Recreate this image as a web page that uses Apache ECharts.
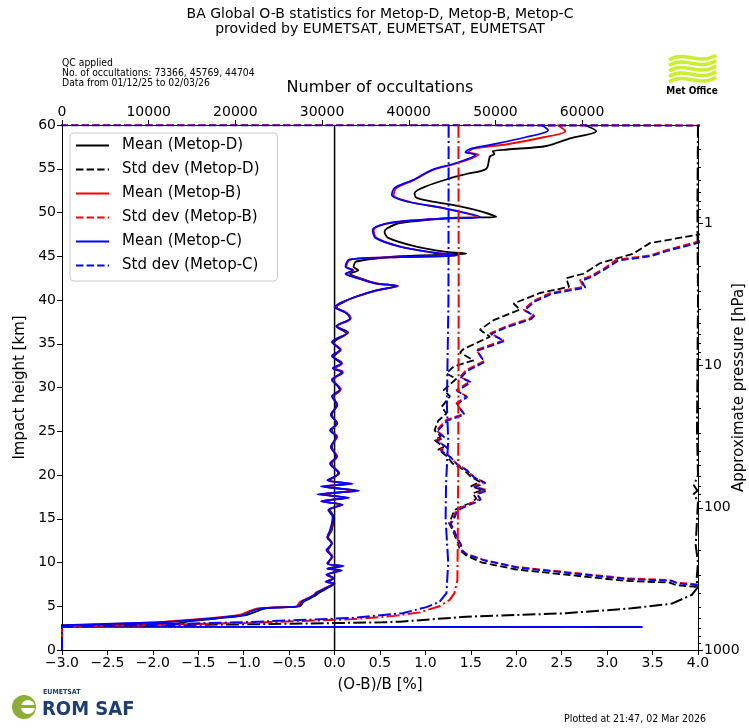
<!DOCTYPE html>
<html>
<head>
<meta charset="utf-8">
<script src="https://cdn.jsdelivr.net/npm/echarts@6/dist/echarts.min.js"></script>
<style>
  html, body { margin: 0; padding: 0; background: #fff; }
  #chart { width: 749px; height: 728px; }
</style>
</head>
<body>
<div id="chart"></div>
<script>
// profiles as [value, impact height km]
const meanD = [
  [2.75, 60.0], [2.88, 59.3], [2.6, 58.5], [2.33, 57.6], [1.9, 57.2], [1.74, 57.0], [1.76, 56.7], [1.71, 56.4],
  [1.67, 55.0], [1.45, 54.4], [1.27, 53.9], [1.01, 53.0], [0.88, 52.2], [0.9, 51.7], [1.05, 51.3], [1.38, 50.7],
  [1.62, 50.1], [1.78, 49.5], [1.34, 49.4], [0.72, 48.8], [0.58, 48.2], [0.55, 47.8], [0.59, 47.1], [0.9, 46.1],
  [1.23, 45.5], [1.45, 45.3], [0.72, 45.0], [0.24, 44.4], [0.21, 43.8], [0.26, 43.4], [0.17, 43.0], [0.28, 42.5],
  [0.46, 41.9], [0.68, 41.6], [0.46, 41.1], [0.24, 40.4], [0.11, 39.8], [0.02, 39.2], [0.13, 38.5], [0.17, 37.9],
  [0.02, 37.0], [0.13, 36.2], [-0.01, 35.1], [0.06, 34.3], [-0.01, 33.5], [0.07, 32.7], [0.0, 32.2], [0.08, 31.8],
  [-0.01, 30.9], [0.06, 29.7], [-0.01, 29.0], [0.02, 28.0], [-0.03, 26.9], [0.02, 25.9], [-0.03, 25.1], [0.02, 24.4],
  [-0.03, 23.2], [0.02, 22.1], [-0.03, 21.3], [0.04, 20.2], [-0.05, 19.4], [0.13, 19.0], [-0.09, 18.7], [0.2, 18.2],
  [-0.12, 17.8], [0.1, 17.4], [-0.12, 17.0], [0.06, 16.6], [-0.05, 16.0], [-0.01, 15.2], [-0.03, 13.7], [-0.07, 12.9],
  [-0.03, 12.2], [-0.07, 11.4], [-0.03, 10.7], [-0.07, 9.9], [0.05, 9.6], [-0.07, 9.3], [0.04, 9.1], [-0.07, 8.6],
  [-0.01, 8.2], [-0.07, 7.8], [0.0, 7.6], [-0.09, 7.0], [-0.16, 6.6], [-0.2, 6.3], [-0.27, 5.9], [-0.34, 5.5],
  [-0.38, 5.0], [-0.49, 4.9], [-0.75, 4.8], [-0.86, 4.4], [-0.97, 4.0], [-1.3, 3.6], [-1.59, 3.3], [-1.72, 3.05],
  [-3.5, 2.75]
];
const meanB = [
  [2.45, 60.0], [2.54, 59.3], [2.3, 58.6], [1.9, 57.8], [1.53, 57.3], [1.47, 56.9], [1.58, 56.6], [1.34, 55.6],
  [1.09, 54.9], [0.87, 53.7], [0.68, 52.8], [0.65, 52.0], [0.83, 51.2], [1.2, 50.5], [1.56, 49.5], [1.16, 49.3],
  [0.61, 48.8], [0.43, 48.0], [0.46, 47.1], [0.72, 46.1], [1.09, 45.4], [1.34, 45.1], [0.72, 44.9], [0.17, 44.6],
  [0.13, 43.8], [0.21, 43.4], [0.13, 43.0], [0.26, 42.5], [0.45, 41.9], [0.7, 41.6], [0.47, 41.1], [0.25, 40.4],
  [0.1, 39.8], [0.01, 39.2], [0.14, 38.5], [0.18, 37.9], [0.03, 37.0], [0.14, 36.3], [-0.02, 35.2], [0.07, 34.3],
  [-0.02, 33.6], [0.08, 32.7], [-0.01, 32.2], [0.09, 31.8], [-0.02, 30.9], [0.07, 29.8], [-0.02, 29.0], [0.03, 28.0],
  [-0.04, 26.9], [0.03, 25.9], [-0.04, 25.1], [0.03, 24.4], [-0.04, 23.2], [0.03, 22.1], [-0.04, 21.3], [0.05, 20.2],
  [-0.07, 19.4], [0.17, 19.0], [-0.12, 18.7], [0.24, 18.2], [-0.16, 17.8], [0.14, 17.4], [-0.14, 17.0], [0.08, 16.6],
  [-0.06, 16.0], [-0.02, 15.2], [-0.04, 13.7], [-0.08, 12.9], [-0.03, 12.2], [-0.08, 11.4], [-0.02, 10.7], [-0.08, 9.9],
  [0.08, 9.6], [-0.08, 9.3], [0.06, 9.1], [-0.09, 8.6], [-0.02, 8.2], [-0.1, 7.8], [-0.02, 7.6], [-0.12, 7.0],
  [-0.2, 6.6], [-0.23, 6.3], [-0.3, 5.9], [-0.38, 5.5], [-0.42, 5.0], [-0.55, 4.9], [-0.85, 4.75], [-0.95, 4.4],
  [-1.05, 4.0], [-1.4, 3.6], [-1.75, 3.35], [-2.03, 3.1], [-3.5, 2.66], [2.5, 2.62]
];
const meanC = [
  [2.28, 60.0], [2.35, 59.4], [2.1, 58.6], [1.75, 57.8], [1.5, 57.3], [1.44, 56.9], [1.55, 56.6], [1.32, 55.6],
  [1.08, 54.9], [0.86, 53.7], [0.66, 52.8], [0.63, 52.0], [0.82, 51.2], [1.2, 50.5], [1.6, 49.5], [1.16, 49.3],
  [0.6, 48.8], [0.42, 48.0], [0.45, 47.1], [0.72, 46.1], [1.1, 45.4], [1.35, 45.1], [0.72, 44.9], [0.16, 44.6],
  [0.12, 43.8], [0.2, 43.4], [0.12, 43.0], [0.25, 42.5], [0.44, 41.9], [0.69, 41.6], [0.46, 41.1], [0.24, 40.4],
  [0.09, 39.8], [0.0, 39.2], [0.13, 38.5], [0.17, 37.9], [0.02, 37.0], [0.15, 36.3], [-0.03, 35.2], [0.06, 34.3],
  [-0.03, 33.6], [0.08, 32.8], [-0.02, 32.2], [0.09, 31.7], [-0.03, 30.9], [0.06, 29.8], [-0.03, 29.0], [0.03, 28.0],
  [-0.04, 26.9], [0.03, 25.9], [-0.05, 25.1], [0.02, 24.4], [-0.04, 23.2], [0.02, 22.1], [-0.05, 21.3], [0.05, 20.2],
  [-0.08, 19.4], [0.2, 19.0], [-0.15, 18.7], [0.27, 18.2], [-0.19, 17.8], [0.16, 17.4], [-0.15, 17.0], [0.09, 16.6],
  [-0.07, 16.0], [-0.02, 15.2], [-0.05, 13.7], [-0.08, 12.9], [-0.03, 12.2], [-0.09, 11.4], [-0.03, 10.7], [-0.08, 9.9],
  [0.1, 9.6], [-0.08, 9.3], [0.08, 9.1], [-0.09, 8.6], [-0.01, 8.2], [-0.09, 7.8], [-0.01, 7.6], [-0.11, 7.0],
  [-0.19, 6.6], [-0.22, 6.3], [-0.29, 5.9], [-0.36, 5.5], [-0.4, 5.0], [-0.52, 4.9], [-0.8, 4.75], [-0.92, 4.4],
  [-1.0, 4.0], [-1.35, 3.6], [-1.65, 3.35], [-1.85, 3.2], [-3.5, 2.67], [3.39, 2.63]
];
const stdD = [
  [4.4, 48.2], [3.47, 46.5], [3.29, 45.3], [2.92, 44.2], [2.74, 43.0], [2.55, 42.5], [2.58, 41.5], [2.26, 40.8],
  [1.97, 39.6], [2.04, 38.9], [1.75, 37.7], [1.6, 36.6], [1.71, 35.8], [1.42, 34.4], [1.38, 34.0], [1.53, 33.1],
  [1.31, 32.4], [1.23, 31.6], [1.34, 31.0], [1.2, 29.7], [1.27, 29.0], [1.18, 27.8], [1.23, 27.0], [1.14, 26.2],
  [1.1, 25.1], [1.17, 24.4], [1.1, 24.0], [1.2, 23.2], [1.14, 22.9], [1.24, 22.1], [1.3, 21.3], [1.42, 20.6],
  [1.5, 19.8], [1.6, 19.2], [1.5, 18.7], [1.63, 18.3], [1.52, 17.9], [1.56, 17.3], [1.5, 16.8], [1.42, 16.5],
  [1.32, 16.0], [1.29, 15.2], [1.26, 14.5], [1.3, 13.7], [1.33, 12.9], [1.36, 12.2], [1.38, 11.4], [1.45, 10.8],
  [1.62, 10.0], [2.0, 9.2], [2.37, 8.8], [2.74, 8.4], [3.21, 7.9], [3.69, 7.7], [3.76, 7.4], [4.0, 7.2], [5.0, 6.6]
];
const stdB = [
  [-5.0, 60.0], [9.0, 59.95], [6.0, 52.0], [4.4, 47.8], [3.65, 45.7], [3.47, 45.1], [3.1, 44.6], [2.95, 43.5],
  [2.81, 42.7], [2.7, 42.3], [2.74, 41.5], [2.63, 41.3], [2.37, 40.8], [2.19, 39.9], [2.08, 38.9], [2.19, 38.3],
  [2.15, 37.9], [1.89, 37.0], [1.71, 36.2], [1.86, 35.4], [1.56, 34.3], [1.64, 33.0], [1.45, 32.0], [1.38, 31.2],
  [1.49, 30.7], [1.34, 29.7], [1.45, 29.0], [1.34, 28.2], [1.42, 27.0], [1.23, 26.3], [1.12, 25.1], [1.2, 24.4],
  [1.12, 24.0], [1.23, 23.2], [1.16, 22.9], [1.27, 22.1], [1.34, 21.3], [1.45, 20.6], [1.53, 19.8], [1.64, 19.2],
  [1.53, 18.7], [1.67, 18.3], [1.56, 17.9], [1.6, 17.3], [1.53, 16.9], [1.45, 16.6], [1.34, 16.0], [1.31, 15.2],
  [1.27, 14.5], [1.31, 13.7], [1.34, 12.9], [1.38, 12.2], [1.4, 11.4], [1.45, 11.0], [1.64, 10.3], [2.0, 9.5],
  [2.37, 9.1], [2.74, 8.7], [3.21, 8.2], [3.69, 8.0], [3.76, 7.7], [4.0, 7.5], [5.0, 7.0]
];
const stdC = [
  [-5.0, 59.97], [9.0, 59.92], [6.0, 51.8], [4.4, 47.6], [3.66, 45.6], [3.48, 45.0], [3.12, 44.5], [2.96, 43.4],
  [2.82, 42.6], [2.72, 42.2], [2.76, 41.4], [2.65, 41.2], [2.39, 40.7], [2.2, 39.8], [2.09, 38.8], [2.2, 38.2],
  [2.16, 37.8], [1.9, 36.9], [1.72, 36.1], [1.87, 35.3], [1.57, 34.2], [1.65, 32.9], [1.46, 31.9], [1.39, 31.1],
  [1.5, 30.6], [1.35, 29.6], [1.46, 28.9], [1.35, 28.1], [1.43, 26.9], [1.24, 26.2], [1.13, 25.0], [1.21, 24.3],
  [1.13, 23.9], [1.24, 23.1], [1.17, 22.8], [1.28, 22.0], [1.35, 21.2], [1.46, 20.5], [1.54, 19.7], [1.66, 19.1],
  [1.54, 18.6], [1.68, 18.2], [1.57, 17.8], [1.61, 17.2], [1.54, 16.8], [1.46, 16.5], [1.35, 15.9], [1.32, 15.1],
  [1.28, 14.4], [1.32, 13.6], [1.35, 12.8], [1.39, 12.1], [1.41, 11.3], [1.46, 10.9], [1.66, 10.2], [2.02, 9.4],
  [2.39, 9.0], [2.76, 8.6], [3.23, 8.1], [3.71, 7.9], [3.78, 7.6], [4.0, 7.4], [5.0, 6.9]
];
// number of occultations as [count, impact height km]
const countD = [
  [73366, 60.0], [73300, 50.0], [73366, 40.0], [73250, 25.0], [73366, 20.0], [72900, 18.8], [73300, 18.2],
  [72850, 17.8], [73366, 17.0], [73100, 12.0], [73366, 10.0], [73200, 8.0], [73366, 7.2], [72650, 6.3],
  [70350, 5.3], [65700, 4.76], [58100, 4.2], [46610, 3.8], [39000, 3.24], [36980, 3.16], [21680, 2.94],
  [0, 2.72], [0, 0.0]
];
const countB = [
  [45730, 60.0], [45760, 40.0], [45700, 20.0], [45650, 12.0], [45610, 8.0], [45270, 6.5], [44690, 5.7],
  [43540, 5.0], [41240, 4.3], [38360, 3.9], [33190, 3.5], [21680, 3.1], [10180, 2.85], [0, 2.65], [0, 0.0]
];
const countC = [
  [44600, 60.0], [44580, 40.0], [44400, 28.0], [44550, 24.0], [44300, 19.0], [44250, 15.0], [44550, 10.0],
  [44350, 6.5], [43540, 5.5], [42050, 4.9], [39280, 4.2], [33190, 3.65], [21680, 3.2], [6380, 2.8], [0, 2.62], [0, 0.0]
];
const zeroLine = [[0, 0], [0, 60]];
const bottomTicks = { min: -3, max: 4, step: 0.5 };
const topTicks = [0, 10000, 20000, 30000, 40000, 50000, 60000, 70000];
const countMax = 73366;
const pressureLabels = [1000, 100, 10, 1];
const pressureMinor = [0.3, 0.4, 0.5, 0.6, 0.7, 0.8, 0.9, 2, 3, 4, 5, 6, 7, 8, 9,
  20, 30, 40, 50, 60, 70, 80, 90, 200, 300, 400, 500, 600, 700, 800, 900];
const kmPerDecade = 16.25;

const font = "DejaVu Sans";
const narrow = "'DejaVu Sans Condensed', 'Liberation Sans Narrow', 'DejaVu Sans', sans-serif";
const presToH = p => kmPerDecade * Math.log10(1000 / p);
const majorH = pressureLabels.map(presToH);

const chart = echarts.init(document.getElementById('chart'), null, { renderer: 'canvas' });

const dashed = [7.4, 3.2];
const dashDot = [12.8, 3.2, 2, 3.2];
function line(name, data, color, type, xi, width, smooth) {
  return {
    name, type: 'line', data, xAxisIndex: xi, yAxisIndex: 0,
    symbol: 'none', showSymbol: false, clip: true, silent: true, smooth: smooth || false,
    lineStyle: { color, width, type }, itemStyle: { color }
  };
}

const option = {
  animation: false,
  textStyle: { fontFamily: font, color: '#000' },
  grid: { left: 62, right: 51, top: 125, bottom: 78, containLabel: false, outerBoundsMode: 'none' },
  legend: {
    orient: 'vertical', left: 70, top: 133,
    data: ['Mean (Metop-D)', 'Std dev (Metop-D)', 'Mean (Metop-B)', 'Std dev (Metop-B)', 'Mean (Metop-C)', 'Std dev (Metop-C)'],
    itemWidth: 33, itemHeight: 14, itemGap: 9,
    padding: [5, 18, 8, 5],
    borderColor: '#cccccc', borderWidth: 1, borderRadius: 4,
    backgroundColor: 'rgba(255,255,255,0.8)',
    itemStyle: { opacity: 0 },
    textStyle: { fontFamily: font, fontSize: 15, color: '#000', lineHeight: 15, padding: [0, 0, 0, 8] },
    selectedMode: false
  },
  xAxis: [
    {
      type: 'value', position: 'bottom', min: bottomTicks.min, max: bottomTicks.max, interval: bottomTicks.step,
      name: '(O-B)/B [%]', nameLocation: 'middle', nameGap: 28,
      nameTextStyle: { fontSize: 15, color: '#000', fontFamily: font },
      axisLine: { show: true, onZero: false, lineStyle: { color: '#000', width: 1 } },
      axisTick: { show: true, inside: false, length: 5, lineStyle: { color: '#000' } },
      axisLabel: { fontSize: 14, color: '#000', margin: 6, fontFamily: font,
        formatter: v => (v < 0 ? '\u2212' : '') + Math.abs(v).toFixed(1) },
      splitLine: { show: false }
    },
    {
      type: 'value', position: 'top', min: 0, max: countMax, interval: 10000,
      name: 'Number of occultations', nameLocation: 'middle', nameGap: 29,
      nameTextStyle: { fontSize: 16, color: '#000', fontFamily: font },
      axisLine: { show: true, onZero: false, lineStyle: { color: '#000', width: 1 } },
      axisTick: { show: true, length: 5, customValues: topTicks, lineStyle: { color: '#000' } },
      axisLabel: { fontSize: 14, color: '#000', margin: 6, fontFamily: font, customValues: topTicks,
        showMaxLabel: false, formatter: v => String(v) },
      splitLine: { show: false }
    }
  ],
  yAxis: [
    {
      type: 'value', position: 'left', min: 0, max: 60, interval: 5,
      name: 'Impact height [km]', nameLocation: 'middle', nameGap: 34, nameRotate: 90,
      nameTextStyle: { fontSize: 15, color: '#000', fontFamily: font },
      axisLine: { show: true, onZero: false, lineStyle: { color: '#000', width: 1 } },
      axisTick: { show: true, length: 5, lineStyle: { color: '#000' } },
      axisLabel: { fontSize: 14, color: '#000', margin: 6, fontFamily: font },
      splitLine: { show: false }
    },
    {
      type: 'value', position: 'right', min: 0, max: 60,
      name: 'Approximate pressure [hPa]', nameLocation: 'middle', nameGap: 34, nameRotate: 90,
      nameMoveOverlap: false,
      nameTextStyle: { fontSize: 15, color: '#000', fontFamily: font },
      axisLine: { show: true, onZero: false, lineStyle: { color: '#000', width: 1 } },
      axisTick: { show: true, length: 5, customValues: majorH, lineStyle: { color: '#000' } },
      axisLabel: { fontSize: 14, color: '#000', margin: 6, fontFamily: font, customValues: majorH,
        formatter: v => {
          const i = majorH.findIndex(h => Math.abs(h - v) < 0.01);
          return i >= 0 ? String(pressureLabels[i]) : '';
        } },
      splitLine: { show: false }
    },
    {
      type: 'value', position: 'right', offset: 0, min: 0, max: 60,
      axisLine: { show: false, onZero: false },
      axisTick: { show: true, length: 3, customValues: pressureMinor.map(presToH), lineStyle: { color: '#000' } },
      axisLabel: { show: false },
      splitLine: { show: false }
    }
  ],
  series: [
    line('zero', zeroLine, '#000', 'solid', 0, 1.5),
    line('Mean (Metop-D)', meanD, '#000000', 'solid', 0, 1.8, 0.3),
    line('Std dev (Metop-D)', stdD, '#000000', dashed, 0, 1.8),
    line('Mean (Metop-B)', meanB, '#ff0000', 'solid', 0, 1.8, 0.3),
    line('Std dev (Metop-B)', stdB, '#ff0000', dashed, 0, 1.8),
    line('Mean (Metop-C)', meanC, '#0000ff', 'solid', 0, 1.8, 0.3),
    line('Std dev (Metop-C)', stdC, '#0000ff', dashed, 0, 1.8),
    line('count D', countD, '#000000', dashDot, 1, 2),
    line('count B', countB, '#ff0000', dashDot, 1, 2),
    line('count C', countC, '#0000ff', dashDot, 1, 2)
  ],
  graphic: [
    { type: 'text', x: 380, y: 14, style: { text: 'BA Global O-B statistics for Metop-D, Metop-B, Metop-C',
      font: '14px ' + font, fill: '#000', textAlign: 'center', textVerticalAlign: 'middle' } },
    { type: 'text', x: 380, y: 29, style: { text: 'provided by EUMETSAT, EUMETSAT, EUMETSAT',
      font: '14px ' + font, fill: '#000', textAlign: 'center', textVerticalAlign: 'middle' } },
    { type: 'text', x: 62, y: 63, style: { text: 'QC applied', font: '10.3px ' + narrow, fill: '#000', textVerticalAlign: 'middle' } },
    { type: 'text', x: 62, y: 73, style: { text: 'No. of occultations: 73366, 45769, 44704', font: '10.3px ' + narrow, fill: '#000', textVerticalAlign: 'middle' } },
    { type: 'text', x: 62, y: 83, style: { text: 'Data from 01/12/25 to 02/03/26', font: '10.3px ' + narrow, fill: '#000', textVerticalAlign: 'middle' } },
    // Met Office logo
    { type: 'group', children: [0, 1, 2, 3, 4].map(i => ({
      type: 'bezierCurve',
      shape: { x1: 669, y1: 60 + i * 5.5, cpx1: 684, cpy1: 50 + i * 5.5, cpx2: 700, cpy2: 66 + i * 5.5, x2: 716, y2: 55 + i * 5.5 },
      style: { stroke: '#c9ef2e', lineWidth: 3.4, fill: null }
    })) },
    { type: 'text', x: 692, y: 91, style: { text: 'Met Office', font: 'bold 10px ' + narrow, fill: '#000', textAlign: 'center', textVerticalAlign: 'middle' } },
    // ROM SAF logo
    { type: 'circle', shape: { cx: 24, cy: 707, r: 12 }, style: { fill: '#8cae35' } },
    { type: 'circle', shape: { cx: 28, cy: 707, r: 7 }, style: { fill: '#ffffff' } },
    { type: 'rect', shape: { x: 18, y: 705, width: 18, height: 3 }, style: { fill: '#8cae35' } },
    { type: 'text', x: 43, y: 692, style: { text: 'EUMETSAT', font: 'bold 7px ' + narrow, fill: '#1c3e73', textVerticalAlign: 'middle' } },
    { type: 'text', x: 42, y: 710, style: { text: 'ROM SAF', font: 'bold 20px ' + narrow, fill: '#1c3e73', textVerticalAlign: 'middle' } },
    { type: 'text', x: 706, y: 719, style: { text: 'Plotted at 21:47, 02 Mar 2026', font: '10.5px ' + narrow, fill: '#000', textAlign: 'right', textVerticalAlign: 'middle' } }
  ]
};
chart.setOption(option);
</script>
</body>
</html>
